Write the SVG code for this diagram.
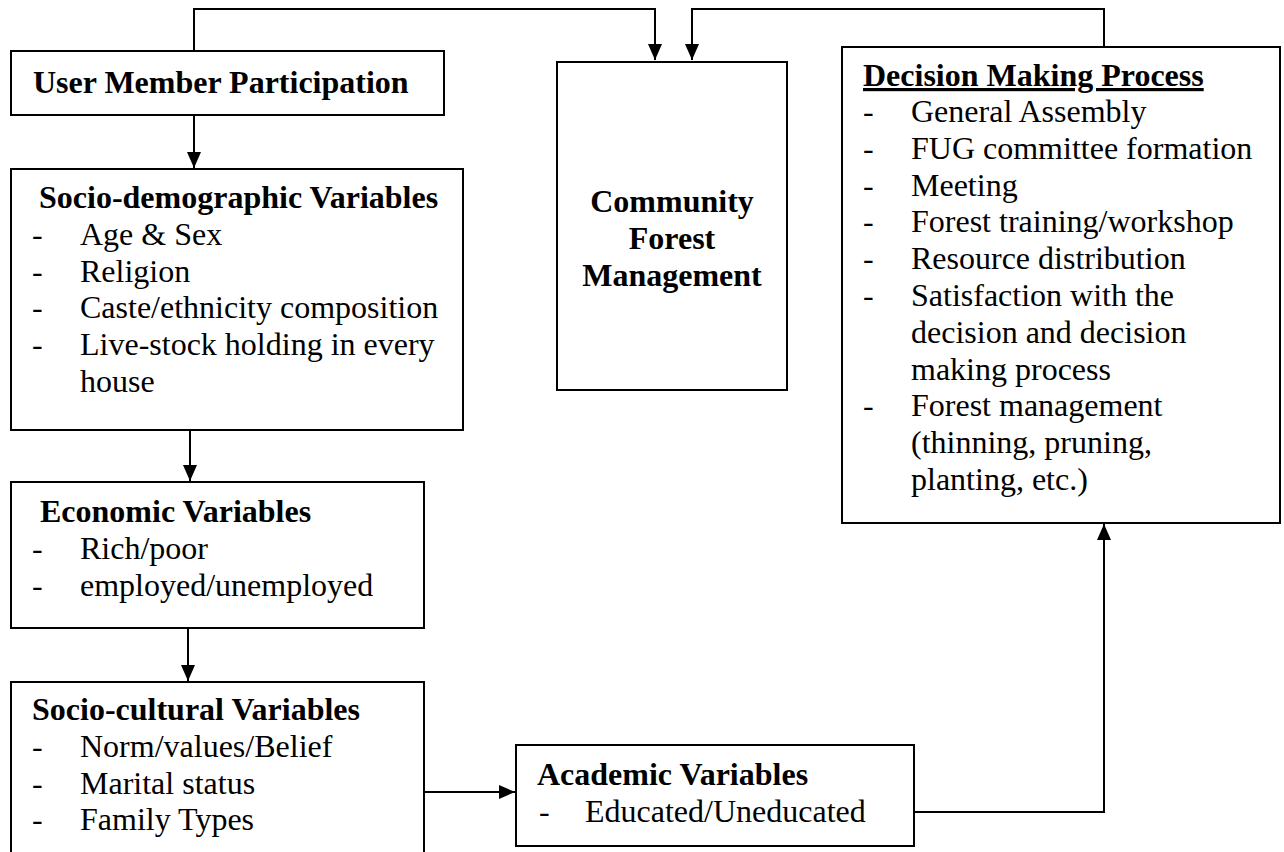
<svg xmlns="http://www.w3.org/2000/svg" width="1284" height="852" viewBox="0 0 1284 852">
<style>
.box{fill:#fff;stroke:#000;stroke-width:2}
.t{font-family:"Liberation Serif","Times New Roman",serif;font-size:32px;fill:#000}
.b{font-weight:bold}
.c{text-anchor:middle}
.con{fill:none;stroke:#000;stroke-width:2}
</style>
<defs>
<marker id="arr" markerUnits="userSpaceOnUse" markerWidth="16" markerHeight="16" viewBox="0 0 16 14" refX="16" refY="7" orient="auto">
<path d="M0,0 L16,7 L0,14 z" fill="#000"/>
</marker>
</defs>
<rect width="1284" height="852" fill="#fff"/>
<g id="connectors">
<path class="con" d="M194,51 V9 H655 V60" marker-end="url(#arr)"/>
<path class="con" d="M1104,47 V9 H692 V60" marker-end="url(#arr)"/>
<path class="con" d="M194,115 V168" marker-end="url(#arr)"/>
<path class="con" d="M190,430 V481" marker-end="url(#arr)"/>
<path class="con" d="M188,628 V681" marker-end="url(#arr)"/>
<path class="con" d="M424,792 H515" marker-end="url(#arr)"/>
<path class="con" d="M914,812 H1104 V524" marker-end="url(#arr)"/>
</g>
<g id="user-member-participation">
<rect class="box" x="11" y="51" width="433" height="64"/>
<text class="t b" x="33" y="93">User Member Participation</text>
</g>
<g id="socio-demographic">
<rect class="box" x="11" y="169" width="452" height="261"/>
<text class="t b" x="39" y="208">Socio-demographic Variables</text>
<text class="t" x="32" y="244.8">-</text><text class="t" x="80" y="244.8">Age &amp; Sex</text>
<text class="t" x="32" y="281.6">-</text><text class="t" x="80" y="281.6">Religion</text>
<text class="t" x="32" y="318.4">-</text><text class="t" x="80" y="318.4">Caste/ethnicity composition</text>
<text class="t" x="32" y="355.2">-</text><text class="t" x="80" y="355.2">Live-stock holding in every</text>
<text class="t" x="80" y="392">house</text>
</g>
<g id="economic">
<rect class="box" x="11" y="482" width="413" height="146"/>
<text class="t b" x="40" y="522">Economic Variables</text>
<text class="t" x="32" y="558.8">-</text><text class="t" x="80" y="558.8">Rich/poor</text>
<text class="t" x="32" y="595.6">-</text><text class="t" x="80" y="595.6">employed/unemployed</text>
</g>
<g id="socio-cultural">
<rect class="box" x="11" y="682" width="413" height="180"/>
<text class="t b" x="32" y="720">Socio-cultural Variables</text>
<text class="t" x="32" y="756.8">-</text><text class="t" x="80" y="756.8">Norm/values/Belief</text>
<text class="t" x="32" y="793.6">-</text><text class="t" x="80" y="793.6">Marital status</text>
<text class="t" x="32" y="830.4">-</text><text class="t" x="80" y="830.4">Family Types</text>
</g>
<g id="academic">
<rect class="box" x="516" y="745" width="398" height="101"/>
<text class="t b" x="537" y="785">Academic Variables</text>
<text class="t" x="539" y="822">-</text><text class="t" x="585" y="822">Educated/Uneducated</text>
</g>
<g id="community-forest-management">
<rect class="box" x="557" y="62" width="230" height="328"/>
<text class="t b c" x="672" y="212">Community</text>
<text class="t b c" x="672" y="249">Forest</text>
<text class="t b c" x="672" y="286">Management</text>
</g>
<g id="decision-making-process">
<rect class="box" x="842" y="47" width="438" height="476"/>
<text class="t b" x="863" y="86" text-decoration="underline">Decision Making Process</text>
<text class="t" x="863" y="122">-</text><text class="t" x="911" y="122">General Assembly</text>
<text class="t" x="863" y="158.8">-</text><text class="t" x="911" y="158.8">FUG committee formation</text>
<text class="t" x="863" y="195.6">-</text><text class="t" x="911" y="195.6">Meeting</text>
<text class="t" x="863" y="232.4">-</text><text class="t" x="911" y="232.4">Forest training/workshop</text>
<text class="t" x="863" y="269.2">-</text><text class="t" x="911" y="269.2">Resource distribution</text>
<text class="t" x="863" y="306">-</text><text class="t" x="911" y="306">Satisfaction with the</text>
<text class="t" x="911" y="342.8">decision and decision</text>
<text class="t" x="911" y="379.6">making process</text>
<text class="t" x="863" y="416.4">-</text><text class="t" x="911" y="416.4">Forest management</text>
<text class="t" x="911" y="453.2">(thinning, pruning,</text>
<text class="t" x="911" y="490">planting, etc.)</text>
</g>
</svg>
